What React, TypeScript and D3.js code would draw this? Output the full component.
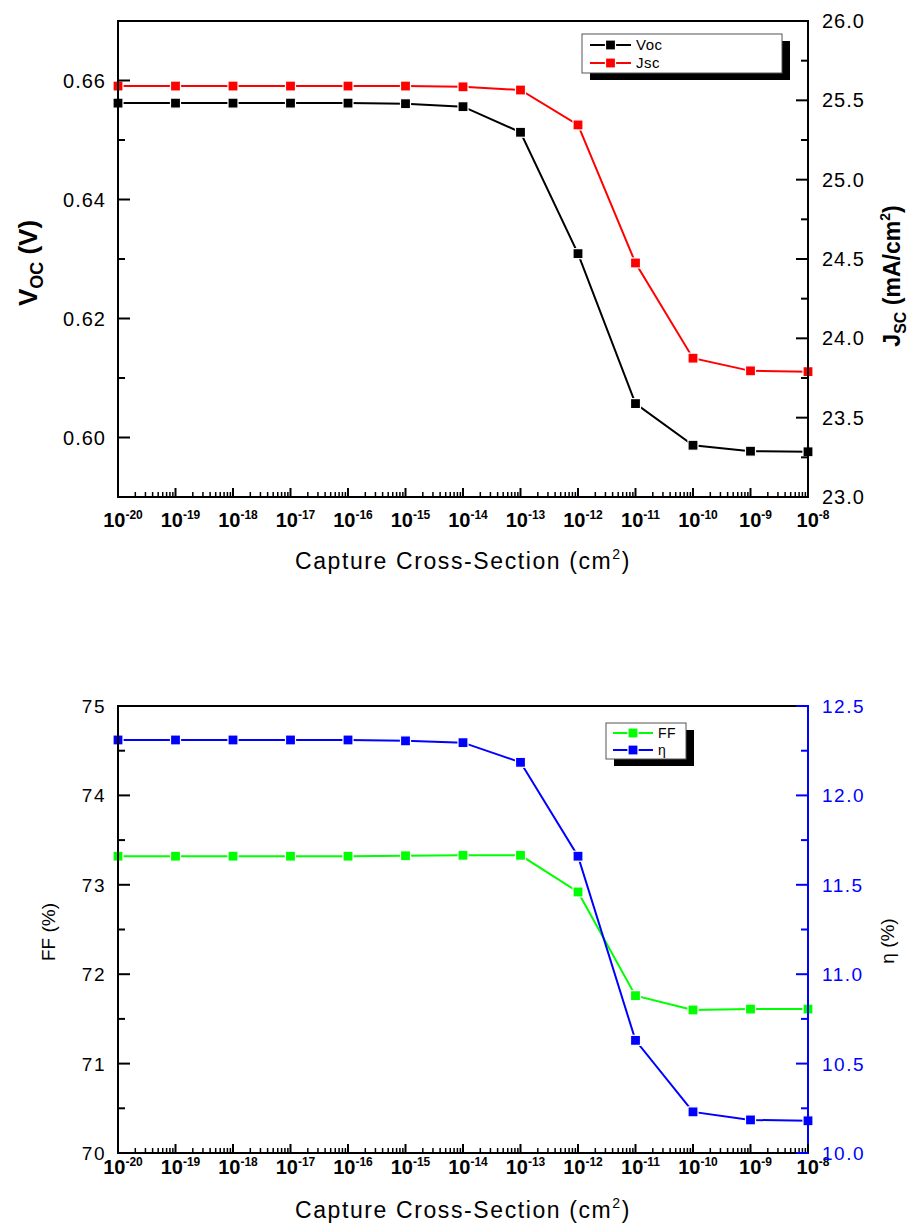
import React from "react";
import * as d3 from "d3";

const exponents = [-20, -19, -18, -17, -16, -15, -14, -13, -12, -11, -10, -9, -8];
const vocValues = [0.6562, 0.6562, 0.6562, 0.6562, 0.6562, 0.6561, 0.6556, 0.6513, 0.6309, 0.6057, 0.5987, 0.5977, 0.5976];
const jscValues = [25.59, 25.59, 25.59, 25.59, 25.59, 25.59, 25.585, 25.565, 25.345, 24.475, 23.875, 23.795, 23.79];
const ffValues = [73.32, 73.32, 73.32, 73.32, 73.32, 73.325, 73.33, 73.33, 72.92, 71.76, 71.60, 71.61, 71.61];
const etaValues = [12.31, 12.31, 12.31, 12.31, 12.31, 12.305, 12.295, 12.185, 11.66, 10.63, 10.23, 10.185, 10.18];

const vocTicks = [0.60, 0.62, 0.64, 0.66];
const jscTicks = [23.0, 23.5, 24.0, 24.5, 25.0, 25.5, 26.0];
const ffTicks = [70, 71, 72, 73, 74, 75];
const etaTicks = [10.0, 10.5, 11.0, 11.5, 12.0, 12.5];

const FONT = "'Liberation Sans', Arial, sans-serif";
const W = 916;
const H = 1223;

type Series = { name: string; values: number[]; color: string; axis: "left" | "right" };

function Panel(props: {
  top: number; bottom: number; left: number; right: number;
  leftDomain: [number, number]; rightDomain: [number, number];
  leftTicks: number[]; rightTicks: number[]; leftFmt: (v: number) => string; rightFmt: (v: number) => string;
  rightColor: string; tickFont: number; tickSpacing: number; series: Series[];
  legend: { x: number; y: number; w: number; h: number; lineX1: number; lineX2: number; textX: number; rowY: number[]; fontSize: number };
  leftTitle: React.ReactNode; rightTitle: React.ReactNode; xTitleY: number; xTickY: number;
}) {
  const { top, bottom, left, right } = props;
  const x = d3.scaleLog().domain([1e-20, 1e-8]).range([left, right]);
  const yL = d3.scaleLinear().domain(props.leftDomain).range([bottom, top]);
  const yR = d3.scaleLinear().domain(props.rightDomain).range([bottom, top]);
  const xs = exponents.map((e) => Math.pow(10, e));
  const minorX: number[] = [];
  for (let e = -20; e < -8; e++) for (let m = 2; m <= 9; m++) minorX.push(m * Math.pow(10, e));
  const leftStep = props.leftTicks[1] - props.leftTicks[0];
  const leftMinor: number[] = [];
  for (let v = props.leftDomain[0]; v <= props.leftDomain[1] + 1e-9; v += leftStep / 2) {
    if (!props.leftTicks.some((t) => Math.abs(t - v) < 1e-9)) leftMinor.push(v);
  }
  const rightStep = props.rightTicks[1] - props.rightTicks[0];
  const rightMinor = props.rightTicks.slice(0, -1).map((t) => t + rightStep / 2);
  const ls = props.legend;

  return (
    <g>
      {props.series.map((s) => {
        const y = s.axis === "left" ? yL : yR;
        const line = d3.line<number>().x((_, i) => x(xs[i])).y((v) => y(v));
        return <path key={s.name + "l"} d={line(s.values) || ""} fill="none" stroke={s.color} strokeWidth={2} />;
      })}
      {props.series.map((s) => {
        const y = s.axis === "left" ? yL : yR;
        return s.values.map((v, i) => (
          <rect key={s.name + i} x={x(xs[i]) - 5} y={y(v) - 5} width={10} height={10} fill={s.color} stroke="white" strokeWidth={1.2} />
        ));
      })}
      <line x1={left} x2={right} y1={top} y2={top} stroke="black" strokeWidth={2} />
      <line x1={left - 1} x2={right + 1} y1={bottom} y2={bottom} stroke="black" strokeWidth={2} />
      <line x1={left} x2={left} y1={top - 1} y2={bottom + 1} stroke="black" strokeWidth={2} />
      <line x1={right} x2={right} y1={top - 1} y2={bottom + 1} stroke={props.rightColor} strokeWidth={2} />
      {xs.map((v, i) => (
        <g key={"xt" + i}>
          <line x1={x(v)} x2={x(v)} y1={bottom} y2={bottom - 9} stroke="black" strokeWidth={2} />
          <text x={x(v) + 5} y={props.xTickY} textAnchor="middle" fontFamily={FONT} fontWeight="bold" fontSize={20}>
            10<tspan dy={-8} fontSize={12}>{exponents[i]}</tspan>
          </text>
        </g>
      ))}
      {minorX.map((v, i) => (
        <line key={"xm" + i} x1={x(v)} x2={x(v)} y1={bottom} y2={bottom - 5} stroke="black" strokeWidth={1.5} />
      ))}
      {props.leftTicks.map((t) => (
        <g key={"lt" + t}>
          <line x1={left} x2={left + 12} y1={yL(t)} y2={yL(t)} stroke="black" strokeWidth={2} />
          <text x={left - 12} y={yL(t) + 7} textAnchor="end" fontFamily={FONT} fontSize={props.tickFont} letterSpacing={props.tickSpacing}>{props.leftFmt(t)}</text>
        </g>
      ))}
      {leftMinor.map((t, i) => (
        <line key={"lm" + i} x1={left} x2={left + 7} y1={yL(t)} y2={yL(t)} stroke="black" strokeWidth={2} />
      ))}
      {props.rightTicks.map((t) => (
        <g key={"rt" + t}>
          <line x1={right} x2={right - 12} y1={yR(t)} y2={yR(t)} stroke={props.rightColor} strokeWidth={2} />
          <text x={right + 14} y={yR(t) + 7} textAnchor="start" fontFamily={FONT} fontSize={props.tickFont} letterSpacing={props.tickSpacing} fill={props.rightColor}>{props.rightFmt(t)}</text>
        </g>
      ))}
      {rightMinor.map((t, i) => (
        <line key={"rm" + i} x1={right} x2={right - 7} y1={yR(t)} y2={yR(t)} stroke={props.rightColor} strokeWidth={2} />
      ))}
      <rect x={ls.x + 8} y={ls.y + 7} width={ls.w} height={ls.h} fill="black" />
      <rect x={ls.x} y={ls.y} width={ls.w} height={ls.h} fill="white" stroke="#555" strokeWidth={1} />
      {props.series.map((s, i) => (
        <g key={"lg" + i}>
          <line x1={ls.lineX1} x2={ls.lineX2} y1={ls.rowY[i]} y2={ls.rowY[i]} stroke={s.color} strokeWidth={2} />
          <rect x={(ls.lineX1 + ls.lineX2) / 2 - 5} y={ls.rowY[i] - 5} width={10} height={10} fill={s.color} stroke="white" strokeWidth={1.2} />
          <text x={ls.textX} y={ls.rowY[i] + 5} fontFamily={FONT} fontSize={ls.fontSize} letterSpacing={0.5}>{s.name}</text>
        </g>
      ))}
      <text x={(left + right) / 2} y={props.xTitleY} textAnchor="middle" fontFamily={FONT} fontSize={23} letterSpacing={1.6}>
        Capture Cross-Section (cm<tspan dy={-10} fontSize={14}>2</tspan><tspan dy={10}>)</tspan>
      </text>
      {props.leftTitle}
      {props.rightTitle}
    </g>
  );
}

export default function App() {
  return (
    <svg width={W} height={H} style={{ position: "absolute", left: 0, top: 0, background: "white" }}>
      <rect width={W} height={H} fill="white" />
      <Panel
        top={21} bottom={497} left={118} right={808}
        leftDomain={[0.59, 0.67]} rightDomain={[23, 26]}
        leftTicks={vocTicks} rightTicks={jscTicks}
        leftFmt={(v) => v.toFixed(2)} rightFmt={(v) => v.toFixed(1)}
        rightColor="black" tickFont={20} tickSpacing={1}
        series={[
          { name: "Voc", values: vocValues, color: "black", axis: "left" },
          { name: "Jsc", values: jscValues, color: "#ff0000", axis: "right" },
        ]}
        legend={{ x: 582, y: 34, w: 200, h: 39, lineX1: 590, lineX2: 631, textX: 636, rowY: [45, 63], fontSize: 15 }}
        xTickY={527} xTitleY={569}
        leftTitle={
          <text transform="translate(37,263) rotate(-90)" textAnchor="middle" fontFamily={FONT} fontWeight="bold" fontSize={26}>
            V<tspan dy={6} fontSize={18}>OC</tspan><tspan dy={-6}> (V)</tspan>
          </text>
        }
        rightTitle={
          <text transform="translate(900,276) rotate(-90)" textAnchor="middle" fontFamily={FONT} fontWeight="bold" fontSize={23}>
            J<tspan dy={6} fontSize={16}>SC</tspan><tspan dy={-6}> (mA/cm</tspan><tspan dy={-10} fontSize={14}>2</tspan><tspan dy={10}>)</tspan>
          </text>
        }
      />
      <Panel
        top={706} bottom={1153} left={118} right={808}
        leftDomain={[70, 75]} rightDomain={[10, 12.5]}
        leftTicks={ffTicks} rightTicks={etaTicks}
        leftFmt={(v) => v.toFixed(0)} rightFmt={(v) => v.toFixed(1)}
        rightColor="#0000ff" tickFont={19} tickSpacing={1.5}
        series={[
          { name: "FF", values: ffValues, color: "#00ff00", axis: "left" },
          { name: "η", values: etaValues, color: "#0000ff", axis: "right" },
        ]}
        legend={{ x: 606, y: 723, w: 80, h: 36, lineX1: 613, lineX2: 653, textX: 658, rowY: [733, 750], fontSize: 14 }}
        xTickY={1174} xTitleY={1218}
        leftTitle={
          <text transform="translate(55,932) rotate(-90)" textAnchor="middle" fontFamily={FONT} fontSize={19}>FF (%)</text>
        }
        rightTitle={
          <text transform="translate(894,941) rotate(-90)" textAnchor="middle" fontFamily={FONT} fontSize={19}>η (%)</text>
        }
      />
    </svg>
  );
}
